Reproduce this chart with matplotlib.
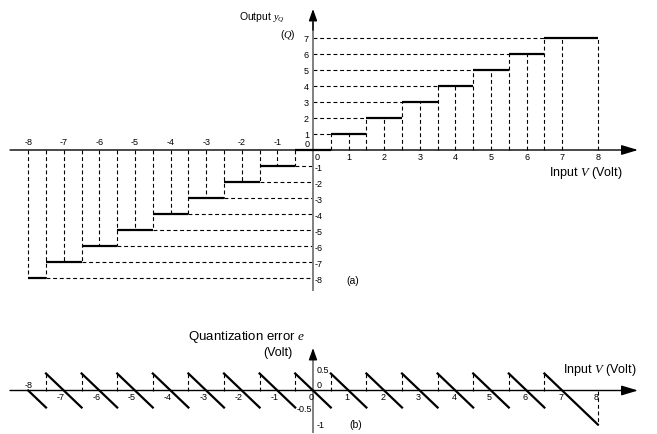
import matplotlib.pyplot as plt
import numpy as np

plt.rcParams['font.family'] = ['Liberation Sans', 'DejaVu Sans']
plt.rcParams['mathtext.fontset'] = 'custom'
plt.rcParams['mathtext.rm'] = 'Liberation Sans'
plt.rcParams['mathtext.it'] = 'Liberation Serif:italic'

# quantizer steps: output level and the input range it covers
levels = np.array([-8, -7, -6, -5, -4, -3, -2, -1, 0, 1, 2, 3, 4, 5, 6, 7])
seg_left = np.array([-8, -7.5, -6.5, -5.5, -4.5, -3.5, -2.5, -1.5, -0.5,
                     0.5, 1.5, 2.5, 3.5, 4.5, 5.5, 6.5])
seg_right = np.array([-7.5, -6.5, -5.5, -4.5, -3.5, -2.5, -1.5, -0.5, 0.5,
                      1.5, 2.5, 3.5, 4.5, 5.5, 6.5, 8])

x_ticks_pos = [1, 2, 3, 4, 5, 6, 7, 8]
x_ticks_neg = [-8, -7, -6, -5, -4, -3, -2, -1]
err_ticks = [0.5, 0, -0.5, -1]

# quantization error e = Q - V at both ends of every step
err_left = levels - seg_left
err_right = levels - seg_right

# layout in pixels (657 x 435 figure)
W, H = 657, 435
X0, XU = 313, 35.6
fig = plt.figure(figsize=(W / 100, H / 100), dpi=100)


def make_ax(y0, yu):
    ax = fig.add_axes([0, 0, 1, 1])
    ax.set_xlim(-X0 / XU, (W - X0) / XU)
    ax.set_ylim((y0 - H) / yu, y0 / yu)
    ax.axis('off')
    ax.patch.set_alpha(0)
    return ax


def px(v):
    return (v - X0) / XU


def label(ax, s, xy, dx=0, dy=0, size=6.5, **kw):
    ax.annotate(s, xy, xytext=(dx, dy), textcoords='offset pixels',
                fontsize=size, **kw)


def axes_arrows(ax, ybot, ytop):
    # x axis with arrow
    ax.annotate('', xy=(px(638), 0), xytext=(px(10), 0),
                arrowprops=dict(arrowstyle='-|>,head_length=1.0,head_width=0.3',
                                lw=1, color='k', shrinkA=0, shrinkB=0))
    ax.plot([0, 0], [ybot, ytop * 0.9], color='#808080', lw=1.4)
    ax.annotate('', xy=(0, ytop), xytext=(0, ytop * 0.85),
                arrowprops=dict(arrowstyle='-|>,head_length=0.7,head_width=0.25',
                                lw=1, color='k', shrinkA=0, shrinkB=0))


dash = dict(color='k', lw=0.8, linestyle=(0, (3.5, 2.5)))

# ---------------- (a) staircase ----------------
Y0a, YUa = 151, 15.95
axa = make_ax(Y0a, YUa)

for q, a, b in zip(levels, seg_left, seg_right):
    if q > 0:
        axa.plot([0, a], [q, q], **dash)
        xs = [a, q] + ([b] if b == 8 else [])
    elif q < 0:
        axa.plot([b, 0], [q, q], **dash)
        xs = [b, q]
    else:
        xs = []
    for xv in xs:
        axa.plot([xv, xv], [0, q], **dash)
axa.hlines(levels, seg_left, seg_right, color='k', lw=1.6, zorder=5)

axes_arrows(axa, (Y0a - 291) / YUa, (Y0a - 10) / YUa)

for t in x_ticks_pos:
    label(axa, str(t), (t, 0), 0, -7, ha='center', va='center')
for t in x_ticks_neg:
    label(axa, str(t), (t, 0), 0, 8, ha='center', va='center')
label(axa, '0', (0, 0), 4, -7, ha='center', va='center')
label(axa, '0', (0, 0), -6, 6, ha='center', va='center')
for q in levels:
    if q > 0:
        label(axa, str(q), (0, q), -4, 0, ha='right', va='center')
    elif q < 0:
        label(axa, str(q), (0, q), 2, -2, ha='left', va='center')

axa.text(px(285), (Y0a - 18) / YUa, r'Output $y_Q$', fontsize=7.5,
         ha='right', va='center')
axa.text(px(296), (Y0a - 35) / YUa, r'($Q$)', fontsize=7.5,
         ha='right', va='center')
axa.text(px(549), (Y0a - 173) / YUa, r'Input $V$ (Volt)', fontsize=9,
         ha='left', va='center')
axa.text(px(353), (Y0a - 281) / YUa, '(a)', fontsize=7.5,
         ha='center', va='center')

# ---------------- (b) quantization error ----------------
Y0b, YUb = 391.5, 34
axb = make_ax(Y0b, YUb)

for a, b, ea, eb in zip(seg_left, seg_right, err_left, err_right):
    axb.plot([a, b], [ea, eb], color='k', lw=1.6, zorder=5)
    if a > -8:
        axb.plot([a, a], [0, ea], **dash)
    if b == 8:
        axb.plot([b, b], [0, eb], **dash)

axes_arrows(axb, (Y0b - 433) / YUb, (Y0b - 349) / YUb)

label(axb, '-8', (-8, 0), 0, 6, ha='center', va='center')
for t in x_ticks_neg[1:] + [0] + x_ticks_pos:
    label(axb, str(t), (t, 0), 1, -6, ha='right', va='center')
for e in err_ticks:
    s = '%g' % e
    if e == -0.5:
        label(axb, s, (0, e), -1, -1, ha='right', va='center')
    elif e == 0:
        label(axb, s, (0, e), 4, 6, ha='left', va='center')
    else:
        label(axb, s, (0, e), 4, 4 if e > 0 else 0, ha='left', va='center')

axb.text(px(305), (Y0b - 337) / YUb, r'Quantization error $e$', fontsize=9.5,
         ha='right', va='center')
axb.text(px(293), (Y0b - 353) / YUb, '(Volt)', fontsize=9,
         ha='right', va='center')
axb.text(px(563), (Y0b - 370) / YUb, r'Input $V$ (Volt)', fontsize=9,
         ha='left', va='center')
axb.text(px(356), (Y0b - 425) / YUb, '(b)', fontsize=7.5,
         ha='center', va='center')

fig.savefig('out.png', dpi=100)
